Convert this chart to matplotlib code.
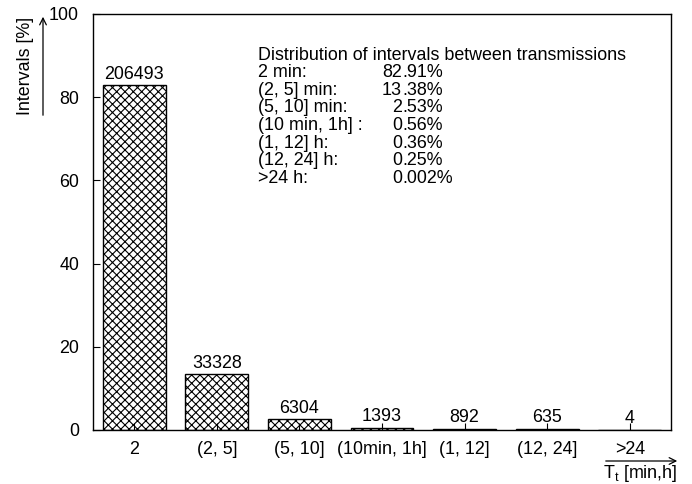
import numpy as np
import matplotlib
matplotlib.use("Agg")
import matplotlib.pyplot as plt

# ===== DATA =====
categories = ["2", "(2, 5]", "(5, 10]", "(10min, 1h]", "(1, 12]", "(12, 24]", ">24"]
percent = [82.91, 13.38, 2.53, 0.56, 0.36, 0.25, 0.002]
counts = [206493, 33328, 6304, 1393, 892, 635, 4]
legend_labels = ["2 min:", "(2, 5] min:", "(5, 10] min:", "(10 min, 1h] :",
                 "(1, 12] h:", "(12, 24] h:", ">24 h:"]
legend_values = ["82.91%", "13.38%", "2.53%", "0.56%", "0.36%", "0.25%", "0.002%"]

plt.rcParams['font.family'] = ['Liberation Sans', 'DejaVu Sans']
plt.rcParams['hatch.linewidth'] = 0.8
FS = 12.9

fig = plt.figure(figsize=(6.92, 4.84), dpi=100)
ax = fig.add_axes([93/692, 54/484, 578/692, 416/484])

x = np.arange(len(categories))
ax.bar(x, percent, width=0.76, color='white', edgecolor='black',
       hatch='xxxx', linewidth=1.0)

for xi, p, c in zip(x, percent, counts):
    ax.text(xi, p + 0.6, str(c), ha='center', va='bottom', fontsize=FS)

ax.set_xlim(-0.5, 6.5)
ax.set_ylim(0, 100)
ax.set_yticks([0, 20, 40, 60, 80, 100])
ax.set_xticks(x)
ax.set_xticklabels(categories)
ax.tick_params(direction='in', labelsize=FS, length=5, width=0.8)
ax.tick_params(axis='x', pad=8)
ax.tick_params(axis='y', pad=10)
for s in ax.spines.values():
    s.set_linewidth(1.0)

# legend text block
tx0 = 258 / 692
ty0 = 1 - 55 / 484
dy = 17.6 / 484
fig.text(tx0, ty0, "Distribution of intervals between transmissions",
         fontsize=FS, va='center', ha='left')
dec_x = 402 / 692
for i, (lab, val) in enumerate(zip(legend_labels, legend_values)):
    yy = ty0 - (i + 1) * dy
    fig.text(tx0, yy, lab, fontsize=FS, va='center', ha='left')
    ip, fp = val.split('.')
    fig.text(dec_x, yy, ip, fontsize=FS, va='center', ha='right')
    fig.text(dec_x, yy, '.' + fp, fontsize=FS, va='center', ha='left')

# y axis label with arrow
fig.text(25/692, 1 - 66/484, "Intervals [%]", rotation=90, fontsize=FS,
         va='center', ha='center')
fig.add_artist(matplotlib.patches.FancyArrowPatch(
    (43/692, 1 - 118/484), (43/692, 1 - 14/484), transform=fig.transFigure,
    arrowstyle='->', mutation_scale=12, linewidth=0.9, color='black'))

# x axis label with arrow
fig.add_artist(matplotlib.patches.FancyArrowPatch(
    (603/692, 1 - 461/484), (680/692, 1 - 461/484), transform=fig.transFigure,
    arrowstyle='->', mutation_scale=12, linewidth=0.9, color='black'))
fig.text(640/692, 1 - 473/484, r"T$_\mathregular{t}$ [min,h]", fontsize=FS,
         va='center', ha='center')

fig.savefig("out.png", dpi=100)
